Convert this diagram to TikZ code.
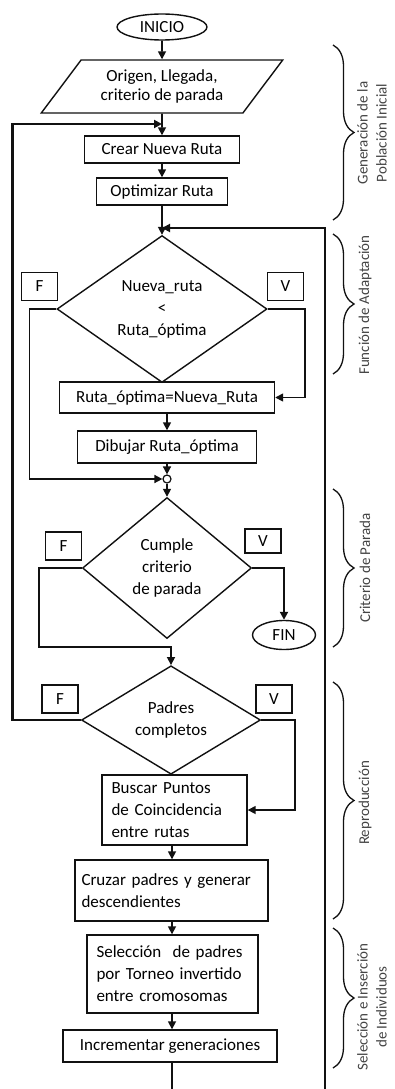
\documentclass[tikz,border=0pt]{standalone}
\usepackage{fontspec}
\setmainfont{Carlito}
\usetikzlibrary{positioning,arrows.meta,shapes.geometric,decorations.pathreplacing,calc}
\definecolor{cLine}{HTML}{111111}
\definecolor{cCap} {HTML}{444444}

\begin{document}
\begin{tikzpicture}[
    x=1pt,y=-1pt,
    font=\fontsize{17}{22}\selectfont,
    >={Triangle[length=8pt,width=8pt]},
    box/.style={draw=cLine,line width=1.4pt,inner sep=0pt,align=center},
    proc/.style={box},
    term/.style={box,ellipse},
    dec/.style ={box,diamond},
    lbl/.style ={box,minimum width=36pt,minimum height=28pt},
    ar/.style  ={->,line width=1.6pt,cLine},
    arb/.style ={->,line width=2.8pt,cLine},
    brc/.style ={decorate,decoration={brace,amplitude=21pt},line width=1.3pt,cLine},
    capt/.style={rotate=90,font=\fontsize{15}{19}\selectfont,text=cCap,align=center},
  ]
  \useasboundingbox (0,0) rectangle (394,1089);
  \clip (0,0) rectangle (394,1089);

  % ---------- START / INPUT ----------
  \node[term,minimum width=90pt,minimum height=26pt] (inicio) at (162,27) {INICIO};
  \node[box,trapezium,trapezium left angle=48,trapezium right angle=132,
        trapezium stretches=true,minimum width=242pt,minimum height=53pt,
        font=\fontsize{17}{19}\selectfont] (datos) at (162,86.5)
        {Origen, Llegada,\\criterio de parada};
  \node[proc,minimum width=155pt,minimum height=27pt] (crear) at (162,149.5) {Crear Nueva Ruta};
  \node[proc,minimum width=131pt,minimum height=27pt] (optim) at (162,191.5) {Optimizar Ruta};

  \coordinate (j1) at (162,124);
  \coordinate (j2) at (162,228);

  \draw[ar] (inicio) -- (datos);
  \draw[ar] (datos) -- (crear);
  \draw[ar] (crear) -- (optim);

  % ---------- FITNESS ----------
  \node[dec,minimum width=210pt,minimum height=132pt] (comp) at (162,309)
        {Nueva\_ruta\\<\\Ruta\_óptima};
  \node[lbl] (f1) at (39.5,286.5) {F};
  \node[lbl] (v1) at (285.5,286.5) {V};
  \node[proc,minimum width=215pt,minimum height=31pt] (rutaopt) at (167,397.5)
        {Ruta\_óptima=Nueva\_Ruta};
  \node[proc,minimum width=179pt,minimum height=32pt] (dibujar) at (167,447)
        {Dibujar Ruta\_óptima};
  \node[circle,draw=cLine,line width=1.2pt,fill=white,minimum size=8pt,inner sep=0pt]
        (union) at (167,479) {};

  \draw[ar] (optim) -- (comp);
  \draw[ar] (comp.east) -- ++(37,0) |- (rutaopt.east);
  \draw[ar] (comp.west) -- ++(-27,0) |- (union.west);
  \draw[ar] (rutaopt.south -| dibujar) -- (dibujar);
  \draw[ar] (dibujar) -- (union);

  % ---------- STOP CRITERION ----------
  \node[dec,minimum width=169pt,minimum height=141pt] (cumple) at (167,568)
        {Cumple\\criterio\\de parada};
  \node[lbl] (f2) at (63.5,546) {F};
  \node[lbl,minimum height=24pt] (v2) at (263,541) {V};
  \node[term,minimum width=63pt,minimum height=29pt] (fin) at (284,635) {FIN};

  \draw[ar] (union) -- (cumple);
  \draw[arb] (cumple.east) -| (fin.north);

  % ---------- REPRODUCTION ----------
  \node[dec,minimum width=179pt,minimum height=95pt] (padres) at (171,720)
        {Padres\\completos};
  \node[lbl] (f3) at (60,699) {F};
  \node[lbl] (v3) at (274,699) {V};
  \node[proc,minimum width=145pt,minimum height=70pt,align=left,text width=126pt]
        (buscar) at (174.5,810) {Buscar Puntos\\de Coincidencia\\entre rutas};
  \node[proc,minimum width=193pt,minimum height=61pt,align=left,text width=180pt]
        (cruzar) at (171.5,890.5) {Cruzar padres y generar\\descendientes};

  \draw[ar] (cumple.west) -- ++(-43,0) -- ++(0,79) -| (padres.north);
  \draw[arb] (padres.west) -- ++(-68,0) |- (j1);
  \draw[ar] (padres.east) -- ++(34,0) |- (buscar.east);
  \draw[ar] (buscar.south -| 172,0) -- (cruzar.north -| 172,0);

  % ---------- SELECTION ----------
  \node[proc,minimum width=171pt,minimum height=78pt,align=left,text width=152pt]
        (selec) at (172.5,974) {Selección~ de padres\\por Torneo invertido\\entre cromosomas};
  \node[proc,minimum width=214pt,minimum height=32pt] (incr) at (170,1046)
        {Incrementar generaciones};
  \coordinate (bot) at (0,1100);
  \coordinate (rgt) at (325,228);

  \draw[ar] (cruzar.south -| 172,0) -- (selec.north -| 172,0);
  \draw[ar] (selec.south -| 172,0) -- (incr.north -| 172,0);
  \draw[ar,line width=1.9pt] (incr.south -| 172,0) -- (bot -| 172,0) -| (rgt) -- (j2);

  % ---------- PHASE BRACES ----------
  \draw[brc] (333,45) -- (333,220);
  \node[capt] (g1) at (372,133) {Generación de la\\Población Inicial};
  \draw[brc] (333,234) -- (333,374);
  \node[capt] (g2) at (365,305) {Función de Adaptación};
  \draw[brc] (333,489) -- (333,647);
  \node[capt] (g3) at (365,568) {Criterio de Parada};
  \draw[brc] (333,682) -- (333,919);
  \node[capt] (g4) at (365,803) {Reproducción};
  \draw[brc] (333,928) -- (333,1068);
  \node[capt] (g5) at (372,1007) {Selección e Inserción\\de Individuos};

\end{tikzpicture}
\end{document}
